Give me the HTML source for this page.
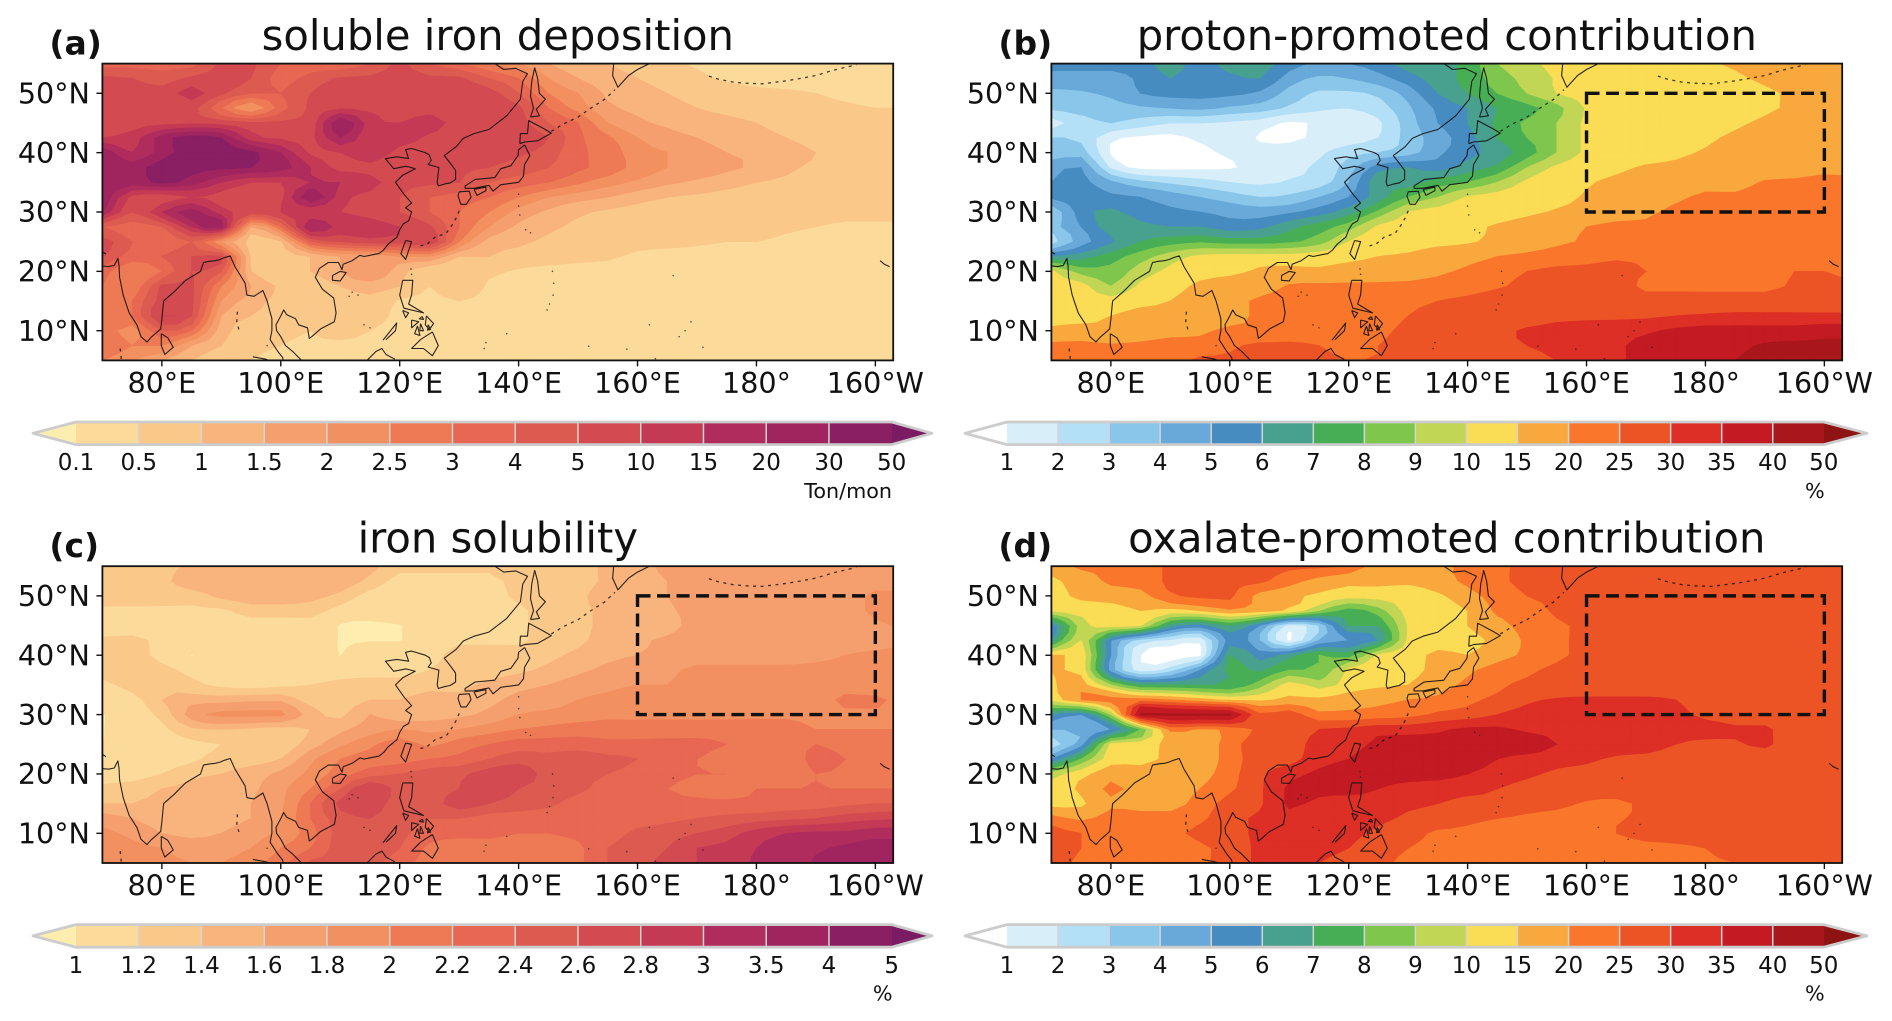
<!DOCTYPE html>
<html lang="en">
<head>
<meta charset="utf-8">
<title>Soluble iron deposition maps</title>
<style>
html,body{margin:0;padding:0;background:#fff;width:1892px;height:1021px;overflow:hidden}
svg{display:block;filter:blur(0.35px)}
text{font-family:"DejaVu Sans","Liberation Sans",sans-serif;fill:#111}
</style>
</head>
<body>
<svg id="figure" xmlns="http://www.w3.org/2000/svg" width="1892" height="1021" viewBox="0 0 1892 1021"></svg>
<script>
// ---- grid axes (degrees) ----
const gridLons = [70,75,80,85,90,95,100,105,110,115,120,125,130,135,140,145,150,155,160,165,170,175,180,185,190,195,200,205];
const gridLats = [55,52.5,50,47.5,45,42.5,40,37.5,35,32.5,30,27.5,25,22.5,20,17.5,15,12.5,10,7.5,5];

// ---- contour levels ----
const depositionLevels = [0.1,0.5,1,1.5,2,2.5,3,4,5,10,15,20,30,50];
const depositionLabels = ["0.1","0.5","1","1.5","2","2.5","3","4","5","10","15","20","30","50"];
const solubilityLevels = [1,1.2,1.4,1.6,1.8,2,2.2,2.4,2.6,2.8,3,3.5,4,5];
const solubilityLabels = ["1","1.2","1.4","1.6","1.8","2","2.2","2.4","2.6","2.8","3","3.5","4","5"];
const contributionLevels = [1,2,3,4,5,6,7,8,9,10,15,20,25,30,35,40,50];
const contributionLabels = ["1","2","3","4","5","6","7","8","9","10","15","20","25","30","35","40","50"];

// ---- colours per band ----
const magmaBands = ["#fcda9a","#fac98a","#f8b47c","#f59f6f","#f3905f","#ee7a55","#e76752","#dd5a51","#d34a51","#c43a55","#b02c5c","#a0255f","#8a1f63"];
const spectralBands = ["#d8eef9","#b3e0f6","#8ac6ea","#68a9d9","#478cc0","#48a08e","#48ae55","#7fc64c","#c2d655","#fadc55","#f9a83d","#f9762b","#ec5426","#dd2f26","#c31a23","#a9171b"];

// ---- axis ticks ----
const lonTicks = [80,100,120,140,160,180,200];
const lonTickLabels = ["80°E","100°E","120°E","140°E","160°E","180°","160°W"];
const latTicks = [50,40,30,20,10];
const latTickLabels = ["50°N","40°N","30°N","20°N","10°N"];

// ---- (a) soluble iron deposition, Ton/mon ----
const depositionGrid = [
[3.5,3.5,3.5,3.5,6,6,4,3,3,4,6,4,3,2.5,2,1.5,1.2,1,.8,.6,.45,.4,.4,.4,.4,.4,.4,.4],
[6,5,4.5,6,7,5,3.5,4.5,5.5,6,6.5,6,6,4,3,2,1.5,1.2,1,.8,.6,.45,.4,.4,.4,.4,.4,.4],
[6,7,7,12,6,4,4,5,6,7,8,8,8,7,4,2.5,2,1.4,1.2,1,.8,.7,.6,.55,.5,.45,.4,.4],
[7,8,8,7,3,2,3.5,6,9,9,8,8,8,8,6,3,2.3,1.6,1.4,1.2,1,.9,.8,.7,.6,.55,.5,.5],
[9,8,8,9,8,6,6,6,30,12,10,12,8,8,7,4,3,2,1.6,1.4,1.2,1.1,1,.9,.8,.7,.6,.6],
[10,12,25,40,30,12,9,8,20,10,12,9,8,9,8,5,3.2,2.6,2,1.7,1.5,1.3,1.1,1,.8,.7,.65,.6],
[30,15,25,40,40,35,20,9,10,14,8,8,7,7,6,4.5,3.2,2.8,2.2,2,1.7,1.5,1.4,1.2,1,.75,.65,.6],
[25,25,40,35,35,30,25,15,8,8,6,7,5.5,5,4.5,4,3.2,2.8,2.3,2,1.8,1.6,1.4,1.1,.9,.75,.65,.6],
[30,25,35,25,15,10,10,15,15,12,7,6,5,4,3.5,3,2.6,2.2,1.9,1.6,1.4,1.2,1,.9,.8,.7,.65,.6],
[30,8,6,10,8,7,8,30,12,8,5,4,3.5,3,2.5,2,1.7,1.5,1.2,1,.9,.8,.75,.7,.65,.6,.6,.6],
[20,5,15,25,12,8,10,10,10,8,5,4,3,2.5,1.8,1.4,1.1,.9,.8,.7,.65,.6,.6,.6,.6,.6,.6,.6],
[4,3.5,4,15,25,1.5,3,20,12,12,10,6,3,2,1.4,1.1,.9,.7,.65,.6,.6,.6,.6,.55,.5,.45,.45,.45],
[8,4,3,4,2,.8,.9,4,5,8,7,10,2.5,1.3,1.1,.9,.75,.65,.6,.6,.55,.5,.5,.45,.4,.4,.4,.4],
[5,3.5,4,5,6,.9,.8,1,1.5,1.5,2,2,1,1,.8,.7,.6,.55,.45,.4,.4,.4,.4,.4,.4,.4,.4,.4],
[3.5,2.5,3,5,4,1,.7,1,1.5,2,1.2,.6,.7,.6,.45,.4,.4,.4,.4,.4,.4,.4,.4,.4,.4,.4,.4,.4],
[3,2.5,6,6,2.5,1.5,.9,.6,1,1.2,1,.5,.8,.45,.4,.4,.4,.4,.4,.4,.4,.4,.4,.4,.4,.4,.4,.4],
[2.5,3,7,6,2,1.3,.8,.6,.7,.9,.45,.4,.5,.4,.4,.4,.4,.4,.4,.4,.4,.4,.4,.4,.4,.4,.4,.4],
[2.5,3,10,5,1.5,1,.7,.5,.7,.7,.4,.4,.4,.4,.4,.4,.4,.4,.4,.4,.4,.4,.4,.4,.4,.4,.4,.4],
[3,2.2,4,3,1.2,.8,.6,.5,.7,.5,.4,.4,.4,.4,.4,.4,.4,.4,.4,.4,.4,.4,.4,.4,.4,.4,.4,.4],
[3,2.5,2.5,1.5,1,.6,.5,.45,.4,.4,.4,.4,.4,.4,.4,.4,.4,.4,.4,.4,.4,.4,.4,.4,.4,.4,.4,.4],
[2.5,2,1.5,1,.7,.5,.45,.4,.4,.4,.4,.4,.4,.4,.4,.4,.4,.4,.4,.4,.4,.4,.4,.4,.4,.4,.4,.4]
];

// ---- (b) proton-promoted contribution, % ----
const protonGrid = [
[5.5,5.5,5.5,5.5,6.5,5.5,6.5,6.5,5.5,4.8,5,5.5,6.5,6.6,7.3,9,9.6,12,13,13,13,13,14,16,17,17,17,17],
[4.5,4.5,4.5,5.2,6,5.5,5.7,6,4.5,3.8,4,4.6,5.5,6.5,7.3,8.5,9.3,10.5,12,13,13,13,13,14,16,17,17,17],
[3.8,3.9,4.2,5,5.3,5.3,5.2,4.8,3.6,2.8,2.8,3.2,4.4,6,7,8,9,10,12,13,13,13,13,14,14,16,17,17],
[3.2,3.5,3.5,3.8,4,4.2,3.8,3.5,2.8,2.2,2,2.5,3.8,5.2,6,7,7.6,8.6,10.5,13,13,13,13,13,14,16,17,17],
[1.5,2.5,3,2.5,2,2,1.8,1.5,.8,1.2,1.5,1.8,3.5,5,6,7.2,8.2,9,11,12,13,13,13,14,16,17,17,17],
[3,2.8,1.2,.8,.7,1.2,1.5,.9,.8,1.2,1.5,2,3.4,4.5,5.6,7,8,9,11,12,13,13,14,16,17,17,17,17],
[3.5,3.5,.9,.5,.5,.7,1.2,1.3,1.4,1.8,2.6,3,3.5,4.8,5.6,6.5,7.5,9,11,13,13,14,15.5,17,17,17,17,17],
[4.5,5,1.8,.7,.7,.8,.9,1.3,1.7,2.2,3.5,5.5,6,5.5,6.5,7.2,9,11,13,14,15.5,16,17,17,17,17,18,18],
[5,5.3,4.2,3.3,2.8,2.4,2,1.8,2.1,2.5,4,6.8,6.5,7.5,8,9,11,13,14.5,16,17,17,18,18,20.5,21,22,21],
[5.2,5.5,5.2,5,4.5,4,3.5,3,3.2,4,5,6.5,8,9,10.5,12,13,13.5,15.5,17,18,19,21,21,22,22,22,21],
[3,5.5,6.2,5.5,5.2,5,4.7,4.5,4.8,5.5,6.5,8.2,10,12,13,13,14,15.5,17,18,19,21,21,22,22,22,22,22],
[3.5,5,6.5,6.3,6,6,5.5,5.7,6.7,7.5,8.5,11,12,13,14,15.5,17,19,20,21,21,21,22,22,22,22,22,22],
[2.5,4.5,5.8,7,7.5,7.8,7.5,7.5,7.8,8.5,10,13,13.5,14,14.5,16,17.5,19,20.5,21,22,22,22,23,23,23,23,23],
[6,6.5,7.5,8.5,9.5,11,12,12,12,13,14,15,15.5,17,18,20,21,22.5,23.5,24.5,24,23,23,23,23,24,24,23],
[11,8.5,8.3,9.5,11,13,14,15.5,16,15.5,16.5,17,18,19,21,23,25,26,26,26,25,24,24,24,24,25,25,23],
[12,12,9,11,13,16,17,17,20.5,21,21,21,21,22,23,24.5,26,27,27,27,24,24,24,24,24,25.5,26,27],
[13,12,12,14,15,17,18,21,22,23,23,23,24,25,26,27,27,27,27,27,27,27,27,27,27,27,27,27],
[13,13,15,16,16,17,18,21,22,23,23,23,25,26,27,28,28,29,29,29,29,30,30.5,31,31,31,31,31],
[16,17,16,17,18,19,21,21,22,23,23,24,26,27,28,29,30.5,31,32,32.5,34,36,37,37,37,37,38,38],
[21,21,20.5,21,22,22,24,26,26,25,24,25,26,27,28,29,30,31,33,34,37,38,38,39,41,42,42,42],
[21,21,21,22,23,26,26,27,28,26,25,25,26,27,28,29,29,30,33,34,37,38,38,40,42,44,45,45]
];

// ---- (c) iron solubility, % ----
const solubilityGrid = [
[1.3,1.3,1.3,1.45,1.45,1.45,1.45,1.45,1.45,1.45,1.3,1.3,1.3,1.3,1.3,1.3,1.3,1.45,1.45,1.7,1.7,1.7,1.7,1.7,1.7,1.7,1.7,1.7],
[1.3,1.3,1.35,1.5,1.5,1.5,1.5,1.5,1.5,1.35,1.1,1.1,1.1,1.1,1.3,1.3,1.3,1.45,1.5,1.6,1.7,1.7,1.7,1.7,1.7,1.7,1.7,1.7],
[1.3,1.3,1.3,1.3,1.45,1.5,1.5,1.45,1.35,1.1,1.1,1.1,1.1,1.1,1.25,1.3,1.35,1.5,1.5,1.6,1.7,1.7,1.7,1.7,1.7,1.7,1.85,1.85],
[1.15,1.15,1.15,1.15,1.15,1.3,1.3,1.3,1.1,1.05,1.1,1.1,1.1,1.1,1.15,1.3,1.35,1.45,1.5,1.55,1.7,1.7,1.7,1.7,1.7,1.7,1.85,1.85],
[1.05,1.1,1.1,1.1,1.1,1.1,1.1,1.1,.95,.9,.95,1.1,1.1,1.1,1.15,1.3,1.35,1.45,1.5,1.5,1.7,1.7,1.7,1.7,1.7,1.7,1.75,1.85],
[1.25,1.25,1.15,1.1,1.1,1.1,1.1,1.1,.95,.95,.95,1.1,1.15,1.15,1.15,1.3,1.35,1.5,1.55,1.65,1.7,1.7,1.7,1.7,1.7,1.7,1.7,1.8],
[1.25,1.25,1.15,.95,1.1,1.1,1.1,1.1,.98,1.1,1.1,1.1,1.3,1.3,1.3,1.35,1.45,1.55,1.6,1.65,1.7,1.7,1.7,1.7,1.75,1.8,1.85,1.85],
[1.35,1.3,1.25,1.15,1.1,1.1,1.1,1.1,1.1,1.1,1.1,1.2,1.3,1.3,1.35,1.45,1.55,1.65,1.7,1.75,1.85,1.85,1.85,1.85,1.85,1.85,1.85,1.85],
[1.1,1.3,1.35,1.25,1.15,1.1,1.15,1.2,1.25,1.3,1.3,1.35,1.35,1.45,1.55,1.6,1.7,1.75,1.8,1.8,1.85,1.85,1.85,1.85,1.9,1.9,1.85,1.85],
[1.1,1.1,1.4,1.5,1.5,1.55,1.55,1.3,1.3,1.4,1.4,1.45,1.45,1.55,1.65,1.7,1.8,1.85,1.9,1.85,1.9,1.9,1.9,1.9,1.9,2.05,2.05,1.9],
[.95,1.1,1.25,1.7,1.85,1.85,1.85,1.5,1.35,1.6,1.45,1.5,1.55,1.65,1.8,1.85,1.9,1.95,1.95,1.95,1.95,1.95,1.95,1.95,1.95,1.95,1.95,1.95],
[.95,1.1,1.15,1.35,1.4,1.35,1.3,1.4,1.55,1.7,1.8,1.75,1.8,1.9,2,2.05,2.1,2.1,2.1,2.1,2.1,2.1,2.1,2.1,2,2,2,2],
[1,1.1,1.1,1.15,1.2,1.2,1.25,1.5,1.75,1.95,2.1,1.95,2.1,2.2,2.3,2.3,2.3,2.25,2.25,2.25,2.25,2.2,2.1,2.1,2.2,2.1,2,2],
[1.1,1.1,1.1,1.15,1.3,1.3,1.4,1.75,2,2.1,2.1,2.2,2.25,2.4,2.5,2.45,2.5,2.45,2.4,2.25,2.2,2.1,2.1,2.1,2.25,2.2,2.1,2],
[1.1,1.1,1.2,1.35,1.4,1.5,1.65,1.85,2.1,2.3,2.4,2.5,2.55,2.7,2.75,2.5,2.45,2.4,2.3,2.25,2.2,2.2,2.1,2.1,2.2,2.15,2.05,2],
[1.25,1.3,1.4,1.45,1.5,1.55,1.75,2,2.4,2.8,2.5,2.5,2.6,2.75,2.6,2.5,2.45,2.3,2.25,2.2,2.15,2.1,2.2,2.2,2.2,2.2,2.2,2.2],
[1.4,1.4,1.45,1.5,1.5,1.6,1.75,2.2,2.65,2.7,2.5,2.5,2.7,2.6,2.5,2.45,2.3,2.25,2.25,2.25,2.25,2.25,2.25,2.3,2.3,2.35,2.4,2.4],
[1.7,1.6,1.5,1.5,1.55,1.6,1.8,2.2,2.5,2.6,2.5,2.4,2.4,2.3,2.3,2.25,2.25,2.25,2.3,2.35,2.4,2.45,2.5,2.55,2.6,2.7,2.75,2.8],
[1.85,1.75,1.6,1.55,1.6,1.7,1.85,2.1,2.5,2.5,2.45,2.3,2.25,2.25,2.2,2.2,2.25,2.3,2.45,2.5,2.6,2.7,2.9,3,3.1,3.1,3.3,3.3],
[1.9,1.85,1.8,1.7,1.7,1.8,2,2.2,2.5,2.5,2.4,2.15,2.1,2.1,2.1,2.1,2.15,2.4,2.5,2.6,2.8,2.85,3,3.1,3.4,3.6,3.7,3.7],
[2,1.9,1.85,1.8,1.8,1.95,2.1,2.45,2.45,2.45,2.3,2.1,2.05,2.05,2.05,2.1,2.15,2.4,2.55,2.65,2.8,2.85,3.1,3.1,3.6,3.7,3.8,3.8]
];

// ---- (d) oxalate-promoted contribution, % ----
const oxalateGrid = [
[17,21,21,22,26,26,26,26,26,26,24,17,18,18,22,24,26,26,26,26,26,26,26,26,26,26,26,26],
[14,17,21,22,26,26,26,26,22,18,16,16,16,18,21,24,26,26,26,26,26,26,26,26,26,26,26,26],
[13,16,17,18,24,26,26,18,16,14,12,12,12,14,18,22,25,26,26,26,26,26,26,26,26,26,26,26],
[11,12,13,15,13,15,19,17,14,9,7.5,8.5,12,13,15,21,22,26,26,26,26,26,26,26,26,26,26,26],
[5,9.5,12,10,6.5,5.5,7,5,1.5,3,7,7,10.5,13,15,18,22,24,26,26,26,26,26,26,26,26,26,26],
[6,10,5,2.5,1.8,1.2,5.5,4,.8,4,5,6,11,13,14,16,21,24,26,26,26,26,26,26,26,26,26,26],
[15,14,5,1,.5,.7,7,5.5,6.5,8,7.5,11,13,16,15,18,21,24,26,26,26,26,26,26,26,26,26,26],
[15,14,4.5,1.5,2.5,5,7.3,6.8,8,8,11,13,14,16,19,22,24,26,26,26,26,26,26,26,26,26,26,26],
[14,17,9,7,7,7,7,8.5,12,9.5,12,14,15,18,21,24,26,26,26,26,26,26,26,26,26,26,26,26],
[11,20,22,22,20,17,14,14,16,16,18,19,20,21,24,26,29,30.5,31,31,31,30,27,27,27,27,27,27],
[6,5,9,42,42,42,42,26,28,21,21,22,23,26,27,30,32,32,32,32,32,32,28,27,27,27,27,27],
[4,4,5,8,21,19,21,26,27,30,31,33,33,34,36,36,34,33,33,33,33,33,33,31,31,27,27,27],
[2.5,4.5,11,13,16,17,22,29,29,31,33,36,37,37,37,37,38,35,33,33,33,30,28,29,31,27,27,27],
[5,8,13,13.5,16,17,22,28,28,33,35,37,37,37,37,35,33,32,31,29,28,27,27,27,27,27,27,27],
[9.5,13,18,17,18,18,23,29,33,36,37,37,37,37,35,33,31,29,28,27,27,27,27,27,27,27,27,27],
[11,16,21,18,18,20,24,29,36,37,37,35,33,32,31,30,28,28,27,27,27,27,27,27,27,27,27,27],
[13,14,19,18,18,22,27,29,36,33,32,33,31,30,29,29,27,26,24.5,24,26,27,27,27,27,27,27,27],
[22,19,22,22,22,24,28,31,33,31,31,31,29,28,26,25,24,23.5,23.5,24.5,26,27,27,27,27,27,27,27],
[27,25,22,23,24,26,28,31,31,31,31,29,27,24,24,23,23,22,22,25,27,27,27,27,27,27,27,27],
[27,25,23,23,23,24,27,31,31,31,30,27,25,24,23,23,22,22,22,22,23,24,25,27,27,27,27,27],
[27,24,23,22,22,24,27,31,31,30,28,26,24,23,22,22,22,22,22,22,22,23,24,25,27,27,27,27]
];

// ---- coastlines as lon/lat polylines ----
const coastlines = [
[[70,20.9],[71,20.8],[72,21],[72.6,22.2],[72.8,21],[72.9,19],[73.5,16],[74.5,13],[75.8,11],[76.5,9],[77.5,8.1],[78.2,8.9],[79.8,10.3],[80,12],[80.3,15],[82,16.5],[84,18.5],[86.5,20],[87,21.5],[88,21.7],[89,21.8],[89.8,22],[90.5,22.3],[91.5,22.6],[92.3,20.8],[94,18],[94.3,16],[95.5,15.8],[97,16.8],[97.7,15],[98.5,12],[98.5,10],[98.2,8.5],[99.5,6.5],[100.3,5.5],[100.4,5]],
[[103.5,5],[102,6.5],[100.8,7.5],[100,9],[99.3,10],[99.2,11],[100,12.5],[100.5,13.5],[101,12.7],[102.5,12],[103,11],[104.5,10.5],[104.8,8.7],[105.2,9],[106.7,10.3],[109,11.5],[109.3,13],[108.9,15.5],[107,17],[105.8,19],[106.5,20.5],[108,21.5],[109.7,21.5],[110.3,20.3],[110.5,21.2],[112,21.8],[113.3,22.7],[114,22.5],[115.5,22.8],[116.5,23],[117.3,23.6],[118,24.5],[119.2,25.5],[119.5,25.7],[120,27],[120.6,28],[121.5,28.5],[122,30],[121,30.7],[122,31.5],[120.7,33],[119.3,35],[120.5,36.2],[122.6,37.3],[121.5,37.6],[121,37.7],[119,37.3],[118,38.5],[117.6,39],[119.5,39.3],[121.5,39],[121,40.5],[122,40.7],[124.3,40],[125,39.6],[125.3,38.7],[124.8,38],[126.6,37.5],[126.3,35],[126.5,34.4],[127.5,34.7],[128.5,34.9],[129.4,35.5],[129.4,37],[128.3,38.5],[127.5,39.5],[129.5,41],[130.7,42.4],[132.5,43.2],[135,43.9],[138,46.2],[140.3,49],[140.7,52],[141.5,53.3],[139.5,54.2],[137.5,54],[136,55]],
[[70,23.3],[70.6,22.9]],
[[142,46],[142.5,47.5],[142,49.5],[142.2,52],[142.7,54.3],[143.2,52.5],[143.5,50],[144.5,49],[143,47.3],[143.5,46.2],[142,46]],
[[140.2,41.5],[141,41.8],[143.2,42],[145.5,43.3],[144.3,44],[141.7,45.4],[141.5,43.2],[140.3,43.2],[140.2,41.5]],
[[141,41.3],[141.9,39.5],[141,38],[140.8,36],[140,35],[137,34.6],[135.7,33.5],[135,34.5],[132.5,34],[131,34],[131,34.4],[132.7,35.5],[136,35.8],[137,37.3],[138.7,37.8],[139.9,39.5],[140,40.5],[141,41.3]],
[[130,33.4],[131.7,33.5],[132,32.5],[131.2,31.3],[130.3,31.3],[129.8,32.7],[130,33.4]],
[[132.5,33.8],[134.5,34.2],[134.5,33.6],[133,32.8],[132.5,33.8]],
[[121,25.2],[122,25],[121,22],[120.2,23],[121,25.2]],
[[108.7,19.3],[110,20],[111,19.8],[110,18.4],[108.7,18.5],[108.7,19.3]],
[[79.9,9.5],[81,8.8],[81.9,7.2],[80.5,6],[79.9,7.5],[79.9,9.5]],
[[120.5,18.5],[122.2,18.5],[122,16],[121.5,14.5],[124,13],[120.7,13.8],[120,16],[120.5,18.5]],
[[125.5,9.8],[126.5,7.5],[125.5,5.8],[124,7],[122,7],[123.5,8.5],[125.5,9.8]],
[[124.5,12.5],[125.7,11.2],[125,10.2],[124.3,11],[124.5,12.5]],
[[122,11.8],[123.2,11.5],[122,10.5],[122,11.8]],
[[123,10.8],[123.4,9.2],[122.5,9.5],[123,10.8]],
[[123.5,11.2],[124,10],[123.4,10],[123.5,11.2]],
[[124.8,11],[125.2,10.2],[124.7,10.1],[124.8,11]],
[[123.8,12.4],[124,11.9],[123.3,12],[123.8,12.4]],
[[120.5,13.4],[121.5,13],[121,12.2],[120.5,13.4]],
[[117.2,8.4],[119.5,11.3],[119.3,10],[117.7,8.5]],
[[114.5,5],[116,6.5],[117,7],[117.7,6],[119.2,5.2]],
[[95.3,5.6],[97.5,5.2],[98,5]],
[[156,55],[155.8,53],[156.7,51],[158.5,53],[160,54],[162,55]],
[[200.8,21.8],[201.5,21.2],[202.4,20.8]]
];
const dottedCoasts = [
[[145.5,43.6],[147.5,44.8],[150,46],[152,47.4],[154.5,49],[156.2,50.6]],
[[172,52.9],[173.5,52.4],[176,51.9],[178,51.7],[181,51.6],[185,52.1],[188,52.6],[190,53],[193,53.9],[196.8,54.8]],
[[92.7,13.2],[92.6,11.5],[93,10]],
[[73,7],[73.2,5]],
[[130,30.2],[129.5,29],[128.8,27.8],[127.8,26.4],[126,25.8],[124.5,24.5],[123.5,24.3]]
];
const islandDots = [[140,33],[140,31],[140.2,29.5],[141.2,27],[142,26.5],[145.7,20],[145.9,18],[145.8,16],[145.2,14.5],[144.8,13.5],[134.5,8],[134.2,7],[138,9.5],[151.8,7.4],[158.2,6.9],[163,5.3],[167,9],[171,7.2],[168,10],[169,11.5],[162,11],[121.9,20.4],[122,19.5],[97.7,7.5],[112,16.5],[113,16],[111.5,15.8],[115,10.5],[114,11],[166,19.3]];

const NS = "http://www.w3.org/2000/svg";
const svg = document.getElementById("figure");
const LON_MIN = 70, LON_MAX = 203, LAT_MIN = 5, LAT_MAX = 55;
const PLOT_W = 790.8, PLOT_H = 296.8;

function make(tag, attrs, parent, text) {
  const el = document.createElementNS(NS, tag);
  for (const k in attrs) el.setAttribute(k, attrs[k]);
  if (text !== undefined) el.textContent = text;
  parent.appendChild(el);
  return el;
}

// Map a value onto a continuous colour-band index so contours are spaced evenly between nodes.
function bandIndex(v, levels) {
  const n = levels.length;
  if (v <= levels[0]) return v / levels[0] - 1;
  for (let k = 0; k < n - 1; k++) {
    if (v < levels[k + 1]) return k + (v - levels[k]) / (levels[k + 1] - levels[k]);
  }
  return n - 1 + (v - levels[n - 1]) / levels[n - 1];
}

// Rendering refinement only: doubles a sampled line with a cubic midpoint rule, limited so it never overshoots its neighbours.
function refineLine(a) {
  const out = [];
  for (let i = 0; i < a.length; i++) {
    out.push(a[i]);
    if (i < a.length - 1) {
      const p = a[Math.max(i - 1, 0)], q = a[Math.min(i + 2, a.length - 1)];
      const m = (9 * a[i] + 9 * a[i + 1] - p - q) / 16;
      const lo = Math.min(a[i], a[i + 1]), hi = Math.max(a[i], a[i + 1]);
      out.push(Math.min(hi, Math.max(lo, m)));
    }
  }
  return out;
}
function refineGrid(g) {
  const rows = g.map(refineLine);
  const cols = rows[0].map((_, i) => refineLine(rows.map(r => r[i])));
  return cols[0].map((_, j) => cols.map(c => c[j]));
}

function clipCell(corners, level) {
  const out = [];
  for (let i = 0; i < 4; i++) {
    const a = corners[i], b = corners[(i + 1) % 4];
    if (a[2] >= level) out.push([a[0], a[1]]);
    if ((a[2] >= level) !== (b[2] >= level)) {
      const t = (level - a[2]) / (b[2] - a[2]);
      out.push([a[0] + t * (b[0] - a[0]), a[1] + t * (b[1] - a[1])]);
    }
  }
  return out;
}

function bandPath(grid, lons, lats, level, xOf, yOf) {
  let d = "";
  for (let j = 0; j < lats.length - 1; j++) {
    for (let i = 0; i < lons.length - 1; i++) {
      const corners = [
        [lons[i], lats[j], grid[j][i]],
        [lons[i + 1], lats[j], grid[j][i + 1]],
        [lons[i + 1], lats[j + 1], grid[j + 1][i + 1]],
        [lons[i], lats[j + 1], grid[j + 1][i]]
      ];
      const poly = clipCell(corners, level);
      if (poly.length < 3) continue;
      d += "M" + poly.map(p => xOf(p[0]).toFixed(1) + " " + yOf(p[1]).toFixed(1)).join("L") + "Z";
    }
  }
  return d;
}

function polylinePath(lines, xOf, yOf) {
  let d = "";
  lines.forEach(line => {
    d += "M" + line.map(c => xOf(c[0]).toFixed(1) + " " + yOf(c[1]).toFixed(1)).join("L");
  });
  return d;
}

function drawPanel(p) {
  const xOf = lon => p.x + (lon - LON_MIN) / (LON_MAX - LON_MIN) * PLOT_W;
  const yOf = lat => p.y + (LAT_MAX - lat) / (LAT_MAX - LAT_MIN) * PLOT_H;
  const group = make("g", {}, svg);
  
  

  const clipId = "clip-" + p.id;
  const defs = make("defs", {}, group);
  const cp = make("clipPath", { id: clipId }, defs);
  make("rect", { x: p.x, y: p.y, width: PLOT_W, height: PLOT_H }, cp);

  const title = make("text", { x: p.x + PLOT_W / 2, y: p.y - 13.6, "text-anchor": "middle", "font-size": 41.7 }, group, p.title);
  
  
  const tag = make("text", { x: p.x - 53, y: p.y - 9, "font-size": 33, "font-weight": "bold" }, group, p.tag);
  
  

  const map = make("g", { "clip-path": "url(#" + clipId + ")" }, group);
  
  
  const bg = make("rect", { x: p.x, y: p.y, width: PLOT_W, height: PLOT_H, fill: p.under }, map);
  
  

  const fine = refineGrid(p.grid.map(row => row.map(v => bandIndex(v, p.levels))));
  const fineLons = refineLine(gridLons);
  const fineLats = refineLine(gridLats);
  p.bands.forEach((color, k) => {
    const band = make("path", { d: bandPath(fine, fineLons, fineLats, k, xOf, yOf), fill: color, stroke: color, "stroke-width": 0.7 }, map);
    
    
  });
  const over = make("path", { d: bandPath(fine, fineLons, fineLats, p.levels.length - 1, xOf, yOf), fill: p.over }, map);
  
  

  const coastPath = make("path", { d: polylinePath(coastlines, xOf, yOf), fill: "none", stroke: "#111", "stroke-width": 1.1, "stroke-opacity": 0.9, "stroke-linejoin": "round" }, map);
  
  
  const chainPath = make("path", { d: polylinePath(dottedCoasts, xOf, yOf), fill: "none", stroke: "#111", "stroke-width": 1.3, "stroke-opacity": 0.8, "stroke-dasharray": "3 4.5" }, map);
  
  
  islandDots.forEach(c => {
    const dot = make("circle", { cx: xOf(c[0]), cy: yOf(c[1]), r: 0.8, fill: "#222", "fill-opacity": 0.75 }, map);
    
    
  });

  if (p.box) {
    const box = make("rect", { x: xOf(p.box[0]), y: yOf(p.box[3]), width: xOf(p.box[1]) - xOf(p.box[0]), height: yOf(p.box[2]) - yOf(p.box[3]), fill: "none", stroke: "#111", "stroke-width": 3.4, "stroke-dasharray": "13 6.5" }, group);
    
    
  }

  const frame = make("rect", { x: p.x, y: p.y, width: PLOT_W, height: PLOT_H, fill: "none", stroke: "#111", "stroke-width": 1.8 }, group);
  
  

  lonTicks.forEach((lon, i) => {
    const mark = make("line", { x1: xOf(lon), x2: xOf(lon), y1: p.y + PLOT_H, y2: p.y + PLOT_H + 6, stroke: "#111", "stroke-width": 1.4 }, group);
    
    
    const lab = make("text", { x: xOf(lon), y: p.y + PLOT_H + 32.5, "text-anchor": "middle", "font-size": 28.6 }, group, lonTickLabels[i]);
    
    
  });
  latTicks.forEach((lat, i) => {
    const mark = make("line", { x1: p.x - 6, x2: p.x, y1: yOf(lat), y2: yOf(lat), stroke: "#111", "stroke-width": 1.4 }, group);
    
    
    const lab = make("text", { x: p.x - 12.5, y: yOf(lat) + 10.2, "text-anchor": "end", "font-size": 28.6 }, group, latTickLabels[i]);
    
    
  });

  // colourbar
  const cb = make("g", {}, group);
  
  
  const top = p.y + 358.4, bot = p.y + 381, mid = (top + bot) / 2;
  const step = (p.cbRight - p.cbLeft) / (p.levels.length - 1);
  const tipL = make("polygon", { points: p.cbTipL + "," + mid + " " + p.cbLeft + "," + top + " " + p.cbLeft + "," + bot, fill: p.under }, cb);
  
  
  const tipR = make("polygon", { points: p.cbTipR + "," + mid + " " + p.cbRight + "," + top + " " + p.cbRight + "," + bot, fill: p.over }, cb);
  
  
  p.bands.forEach((c, k) => {
    const swatch = make("rect", { x: p.cbLeft + k * step, y: top, width: step + 0.3, height: bot - top, fill: c }, cb);
    
    
  });
  p.labels.forEach((t, k) => {
    const cx = p.cbLeft + k * step;
    if (k > 0 && k < p.labels.length - 1) {
      const sep = make("line", { x1: cx, x2: cx, y1: top, y2: bot, stroke: "#d4d4d4", "stroke-width": 1.5 }, cb);
      
      
    }
    const lab = make("text", { x: cx, y: p.y + 406.6, "text-anchor": "middle", "font-size": 23 }, cb, t);
    
    
  });
  const outline = make("polygon", { points: p.cbTipL + "," + mid + " " + p.cbLeft + "," + top + " " + p.cbRight + "," + top + " " + p.cbTipR + "," + mid + " " + p.cbRight + "," + bot + " " + p.cbLeft + "," + bot, fill: "none", stroke: "#cccccc", "stroke-width": 2.8, "stroke-linejoin": "round" }, cb);
  
  
  const unit = make("text", { x: p.unitX, y: p.y + 434.4, "text-anchor": p.unitAnchor, "font-size": 20.7 }, cb, p.unit);
  
  
}

const regionBox = [160, 200, 30, 50];
drawPanel({ id: "deposition", tag: "(a)", title: "soluble iron deposition", x: 102.4, y: 63.6, grid: depositionGrid, levels: depositionLevels, labels: depositionLabels, bands: magmaBands, under: "#fdeeb0", over: "#7b1b64", cbLeft: 76, cbRight: 891.7, cbTipL: 33, cbTipR: 932, unit: "Ton/mon", unitX: 892, unitAnchor: "end", box: null });
drawPanel({ id: "proton", tag: "(b)", title: "proton-promoted contribution", x: 1051.4, y: 63.6, grid: protonGrid, levels: contributionLevels, labels: contributionLabels, bands: spectralBands, under: "#ffffff", over: "#8e1414", cbLeft: 1007, cbRight: 1823.8, cbTipL: 965, cbTipR: 1867, unit: "%", unitX: 1814.8, unitAnchor: "middle", box: regionBox });
drawPanel({ id: "solubility", tag: "(c)", title: "iron solubility", x: 102.4, y: 566.2, grid: solubilityGrid, levels: solubilityLevels, labels: solubilityLabels, bands: magmaBands, under: "#fdeeb0", over: "#7b1b64", cbLeft: 76, cbRight: 891.7, cbTipL: 33, cbTipR: 932, unit: "%", unitX: 882.7, unitAnchor: "middle", box: regionBox });
drawPanel({ id: "oxalate", tag: "(d)", title: "oxalate-promoted contribution", x: 1051.4, y: 566.2, grid: oxalateGrid, levels: contributionLevels, labels: contributionLabels, bands: spectralBands, under: "#ffffff", over: "#8e1414", cbLeft: 1007, cbRight: 1823.8, cbTipL: 965, cbTipR: 1867, unit: "%", unitX: 1814.8, unitAnchor: "middle", box: regionBox });
</script>
</body>
</html>
